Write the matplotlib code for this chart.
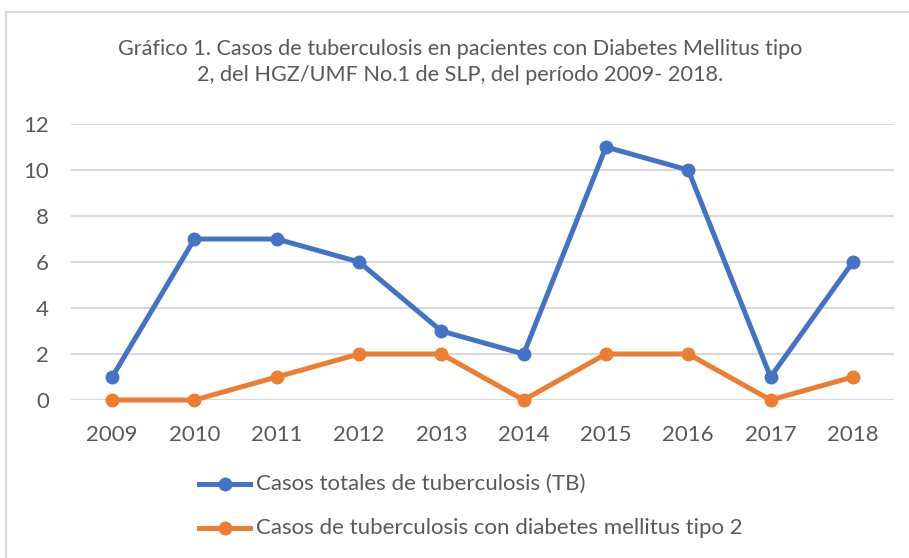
import matplotlib
matplotlib.use("Agg")
import matplotlib.pyplot as plt
from matplotlib.patches import Rectangle
from matplotlib.lines import Line2D

years = ["2009", "2010", "2011", "2012", "2013", "2014", "2015", "2016", "2017", "2018"]
total_tb = [1, 7, 7, 6, 3, 2, 11, 10, 1, 6]
tb_dm2 = [0, 0, 1, 2, 2, 0, 2, 2, 0, 1]
yticks = [0, 2, 4, 6, 8, 10, 12]
title = ("Gráfico 1. Casos de tuberculosis en pacientes con Diabetes Mellitus tipo\n"
         "2, del HGZ/UMF No.1 de SLP, del período 2009- 2018.")
labels = ["Casos totales de tuberculosis (TB)",
          "Casos de tuberculosis con diabetes mellitus tipo 2"]

W, H = 909, 558
plt.rcParams['font.family'] = ['Lato', 'DejaVu Sans']
TXT = '#595959'
BLUE = '#4472C4'
ORANGE = '#ED7D31'

fig = plt.figure(figsize=(W / 100, H / 100), dpi=100)
# outer chart frame
fig.patches.append(Rectangle((6 / W, -0.1), 1.0, (H - 12) / H + 0.1,
                             transform=fig.transFigure, fill=False,
                             edgecolor='#D9D9D9', linewidth=1.5))

left, right = 71, 894
y0, y12 = 400, 124
ax = fig.add_axes([left / W, 1 - y0 / H, (right - left) / W, (y0 - y12) / H])
x = list(range(len(years)))
l1, = ax.plot(x, total_tb, color=BLUE, lw=3.6, marker='o', ms=9, solid_joinstyle='round', zorder=3)
l2, = ax.plot(x, tb_dm2, color=ORANGE, lw=3.6, marker='o', ms=9, solid_joinstyle='round', zorder=3)
ax.set_xlim(-0.5, len(years) - 0.5)
ax.set_ylim(0, 12)
ax.set_yticks(yticks)
ax.set_xticks(x)
ax.set_xticklabels(years)
ax.yaxis.grid(True, color='#D9D9D9', lw=1.5)
ax.set_axisbelow(True)
for s in ax.spines.values():
    s.set_visible(False)
ax.tick_params(length=0, labelsize=16, colors=TXT)
ax.tick_params(axis='y', pad=16)
ax.tick_params(axis='x', pad=18)
ax.patch.set_alpha(0)
for l in (l1, l2):
    l.set_clip_on(False)

fig.text(460 / W, 1 - 62 / H, title, ha='center', va='center', fontsize=15.6,
         color=TXT, linespacing=1.4)

# legend
for (lab, col, yy) in [(labels[0], BLUE, 484), (labels[1], ORANGE, 528)]:
    fig.add_artist(Line2D([199 / W, 250 / W], [1 - yy / H, 1 - yy / H],
                          transform=fig.transFigure, color=col, lw=3.6))
    fig.add_artist(Line2D([224.5 / W], [1 - yy / H], transform=fig.transFigure,
                          color=col, marker='o', ms=9))
    fig.text(256 / W, 1 - yy / H, lab, ha='left', va='center', fontsize=16, color=TXT)

fig.savefig("out.png", dpi=100)
